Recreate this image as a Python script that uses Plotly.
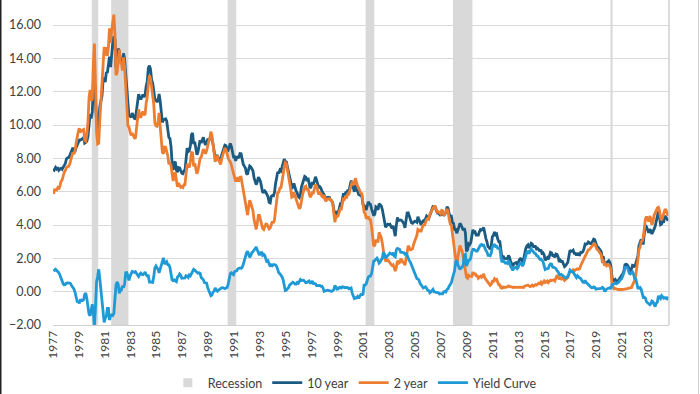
import plotly.graph_objects as go
import pandas as pd

# Monthly average yields (%), January 1977 to July 2024
ten_year = [
    7.21, 7.39, 7.46, 7.37, 7.46, 7.28, 7.33, 7.40, 7.34, 7.52, 7.58, 7.69,   # 1977
    7.96, 8.03, 8.04, 8.15, 8.35, 8.46, 8.64, 8.41, 8.42, 8.64, 8.81, 9.01,   # 1978
    9.10, 9.10, 9.12, 9.18, 9.25, 8.91, 8.95, 9.03, 9.33, 10.30, 10.65, 10.39,  # 1979
    10.80, 12.41, 12.75, 11.47, 10.18, 9.78, 10.25, 11.10, 11.51, 11.75, 12.68, 12.84,  # 1980
    12.57, 13.19, 13.12, 13.68, 14.10, 13.47, 14.28, 14.94, 15.32, 15.15, 13.39, 13.72,  # 1981
    14.59, 14.43, 13.86, 13.87, 13.62, 14.30, 13.95, 13.06, 12.34, 10.91, 10.55, 10.54,  # 1982
    10.46, 10.72, 10.51, 10.40, 10.38, 10.85, 11.38, 11.85, 11.65, 11.54, 11.69, 11.83,  # 1983
    11.67, 11.84, 12.32, 12.63, 13.41, 13.56, 13.36, 12.72, 12.52, 12.16, 11.57, 11.50,  # 1984
    11.38, 11.51, 11.86, 11.43, 10.85, 10.16, 10.31, 10.33, 10.37, 10.24, 9.78, 9.26,   # 1985
    9.19, 8.70, 7.78, 7.30, 7.71, 7.80, 7.30, 7.17, 7.45, 7.43, 7.25, 7.11,   # 1986
    7.08, 7.25, 7.25, 8.02, 8.61, 8.40, 8.45, 8.76, 9.42, 9.52, 8.86, 8.99,   # 1987
    8.67, 8.21, 8.37, 8.72, 9.09, 8.92, 9.06, 9.26, 8.98, 8.80, 8.96, 9.11,   # 1988
    9.09, 9.17, 9.36, 9.18, 8.86, 8.28, 8.02, 8.11, 8.19, 8.01, 7.87, 7.84,   # 1989
    8.21, 8.47, 8.59, 8.79, 8.76, 8.48, 8.47, 8.75, 8.89, 8.72, 8.39, 8.08,   # 1990
    8.09, 7.85, 8.11, 8.04, 8.07, 8.28, 8.27, 7.90, 7.65, 7.53, 7.42, 7.09,   # 1991
    7.03, 7.34, 7.54, 7.48, 7.39, 7.26, 6.84, 6.59, 6.42, 6.59, 6.87, 6.77,   # 1992
    6.60, 6.26, 5.98, 5.97, 6.04, 5.96, 5.81, 5.68, 5.36, 5.33, 5.72, 5.77,   # 1993
    5.75, 5.97, 6.48, 6.97, 7.18, 7.10, 7.30, 7.24, 7.46, 7.74, 7.96, 7.81,   # 1994
    7.78, 7.47, 7.20, 7.06, 6.63, 6.17, 6.28, 6.49, 6.20, 6.04, 5.93, 5.71,   # 1995
    5.65, 5.81, 6.27, 6.51, 6.74, 6.91, 6.87, 6.64, 6.83, 6.53, 6.20, 6.30,   # 1996
    6.58, 6.42, 6.69, 6.89, 6.71, 6.49, 6.22, 6.30, 6.21, 6.03, 5.88, 5.81,   # 1997
    5.54, 5.57, 5.65, 5.64, 5.65, 5.50, 5.46, 5.34, 4.81, 4.53, 4.83, 4.65,   # 1998
    4.72, 5.00, 5.23, 5.18, 5.54, 5.90, 5.79, 5.94, 5.92, 6.11, 6.03, 6.28,   # 1999
    6.66, 6.52, 6.26, 5.99, 6.44, 6.10, 6.05, 5.83, 5.80, 5.74, 5.72, 5.24,   # 2000
    5.16, 5.10, 4.89, 5.14, 5.39, 5.28, 5.24, 4.97, 4.73, 4.57, 4.65, 5.09,   # 2001
    5.04, 4.91, 5.28, 5.21, 5.16, 4.93, 4.65, 4.26, 3.87, 3.94, 4.05, 4.03,   # 2002
    4.05, 3.90, 3.81, 3.96, 3.57, 3.33, 3.98, 4.45, 4.27, 4.29, 4.30, 4.27,   # 2003
    4.15, 4.08, 3.83, 4.35, 4.72, 4.73, 4.50, 4.28, 4.13, 4.10, 4.19, 4.23,   # 2004
    4.22, 4.17, 4.50, 4.34, 4.14, 4.00, 4.18, 4.26, 4.20, 4.46, 4.54, 4.47,   # 2005
    4.42, 4.57, 4.72, 4.99, 5.11, 5.11, 5.09, 4.88, 4.72, 4.73, 4.60, 4.56,   # 2006
    4.76, 4.72, 4.56, 4.69, 4.75, 5.10, 5.00, 4.67, 4.52, 4.53, 4.15, 4.10,   # 2007
    3.74, 3.74, 3.51, 3.68, 3.88, 4.10, 4.01, 3.89, 3.69, 3.81, 3.53, 2.42,   # 2008
    2.52, 2.87, 2.82, 2.93, 3.29, 3.72, 3.56, 3.59, 3.40, 3.39, 3.40, 3.59,   # 2009
    3.73, 3.69, 3.73, 3.85, 3.42, 3.20, 3.01, 2.70, 2.65, 2.54, 2.76, 3.29,   # 2010
    3.39, 3.58, 3.41, 3.46, 3.17, 3.00, 3.00, 2.30, 1.98, 2.15, 2.01, 1.98,   # 2011
    1.97, 1.97, 2.17, 2.05, 1.80, 1.62, 1.53, 1.68, 1.72, 1.75, 1.65, 1.72,   # 2012
    1.91, 1.98, 1.96, 1.76, 1.93, 2.30, 2.58, 2.74, 2.81, 2.62, 2.72, 2.90,   # 2013
    2.86, 2.71, 2.72, 2.71, 2.56, 2.60, 2.54, 2.42, 2.53, 2.30, 2.33, 2.21,   # 2014
    1.88, 1.98, 2.04, 1.94, 2.20, 2.36, 2.32, 2.17, 2.17, 2.07, 2.26, 2.24,   # 2015
    2.09, 1.78, 1.89, 1.81, 1.81, 1.64, 1.50, 1.56, 1.63, 1.76, 2.14, 2.49,   # 2016
    2.43, 2.42, 2.48, 2.30, 2.30, 2.19, 2.32, 2.21, 2.20, 2.36, 2.35, 2.40,   # 2017
    2.58, 2.86, 2.84, 2.87, 2.98, 2.91, 2.89, 2.89, 3.00, 3.15, 3.12, 2.83,   # 2018
    2.71, 2.68, 2.57, 2.53, 2.40, 2.07, 2.06, 1.63, 1.70, 1.71, 1.81, 1.86,   # 2019
    1.76, 1.50, 0.87, 0.66, 0.67, 0.73, 0.62, 0.65, 0.68, 0.79, 0.87, 0.93,   # 2020
    1.08, 1.26, 1.61, 1.64, 1.62, 1.52, 1.32, 1.28, 1.37, 1.58, 1.56, 1.47,   # 2021
    1.76, 1.93, 2.13, 2.75, 2.90, 3.14, 2.90, 2.90, 3.52, 3.98, 3.89, 3.62,   # 2022
    3.53, 3.75, 3.66, 3.46, 3.57, 3.75, 3.90, 4.17, 4.38, 4.80, 4.50, 4.02,   # 2023
    4.06, 4.21, 4.21, 4.54, 4.48, 4.31, 4.25,                                   # 2024
]

two_year = [
    5.87, 6.11, 6.12, 6.10, 6.24, 6.15, 6.33, 6.62, 6.70, 7.05, 7.17, 7.26,   # 1977
    7.45, 7.50, 7.51, 7.63, 7.87, 8.12, 8.36, 8.25, 8.46, 8.90, 9.40, 9.61,   # 1978
    9.80, 9.56, 9.65, 9.71, 9.73, 9.07, 9.03, 9.46, 10.20, 11.64, 12.10, 11.47,  # 1979
    11.55, 13.70, 14.89, 12.36, 9.57, 8.87, 8.91, 10.34, 11.37, 12.31, 13.66, 14.68,  # 1980
    14.16, 14.67, 14.13, 14.69, 15.80, 14.91, 15.67, 16.37, 16.62, 15.49, 12.99, 13.14,  # 1981
    14.14, 14.53, 13.71, 13.76, 13.27, 14.06, 13.51, 11.93, 11.20, 9.97, 9.87, 9.62,   # 1982
    9.37, 9.51, 9.32, 9.24, 9.18, 9.76, 10.37, 10.94, 10.61, 10.43, 10.66, 10.81,   # 1983
    10.59, 10.66, 11.31, 11.69, 12.46, 12.98, 12.78, 12.17, 11.96, 11.27, 10.14, 9.96,  # 1984
    9.93, 10.18, 10.73, 10.07, 9.33, 8.36, 8.28, 8.67, 8.66, 8.44, 8.16, 7.65,   # 1985
    7.74, 7.55, 7.06, 6.64, 7.00, 7.16, 6.70, 6.29, 6.52, 6.37, 6.26, 6.30,   # 1986
    6.25, 6.41, 6.42, 7.06, 7.67, 7.54, 7.45, 7.81, 8.35, 8.33, 7.52, 7.70,   # 1987
    7.45, 7.07, 7.26, 7.58, 7.98, 8.07, 8.27, 8.55, 8.44, 8.28, 8.45, 8.87,   # 1988
    9.02, 9.22, 9.60, 9.38, 8.88, 8.25, 7.79, 8.02, 8.16, 7.91, 7.72, 7.63,   # 1989
    7.98, 8.23, 8.38, 8.61, 8.54, 8.24, 8.04, 7.87, 7.80, 7.59, 7.35, 7.06,   # 1990
    6.88, 6.60, 6.86, 6.67, 6.66, 6.86, 6.87, 6.44, 6.02, 5.63, 5.19, 4.77,   # 1991
    4.60, 5.07, 5.48, 5.32, 5.04, 4.87, 4.34, 4.05, 3.74, 4.09, 4.58, 4.58,   # 1992
    4.26, 3.91, 3.80, 3.73, 3.87, 4.06, 4.05, 3.84, 3.76, 3.82, 4.12, 4.21,   # 1993
    4.12, 4.34, 4.88, 5.45, 5.95, 5.97, 6.22, 6.24, 6.57, 7.02, 7.51, 7.74,   # 1994
    7.68, 7.32, 6.97, 6.67, 6.19, 5.67, 5.71, 5.96, 5.74, 5.58, 5.38, 5.21,   # 1995
    4.97, 5.08, 5.60, 5.82, 6.05, 6.29, 6.33, 6.09, 6.20, 5.89, 5.67, 5.77,   # 1996
    5.94, 5.93, 6.19, 6.42, 6.35, 6.12, 5.83, 5.93, 5.89, 5.70, 5.66, 5.79,   # 1997
    5.49, 5.47, 5.56, 5.56, 5.59, 5.49, 5.45, 5.27, 4.69, 4.17, 4.54, 4.50,   # 1998
    4.56, 4.75, 4.97, 4.96, 5.25, 5.62, 5.55, 5.68, 5.66, 5.86, 5.86, 6.10,   # 1999
    6.44, 6.61, 6.53, 6.40, 6.81, 6.48, 6.34, 6.23, 6.08, 5.91, 5.88, 5.45,   # 2000
    4.77, 4.71, 4.43, 4.42, 4.51, 4.35, 4.31, 3.89, 3.10, 2.73, 2.78, 3.11,   # 2001
    3.03, 3.02, 3.56, 3.42, 3.26, 2.91, 2.29, 2.00, 1.86, 1.85, 1.90, 1.84,   # 2002
    1.74, 1.63, 1.57, 1.62, 1.42, 1.23, 1.47, 1.86, 1.71, 1.75, 1.93, 1.91,   # 2003
    1.76, 1.74, 1.58, 2.07, 2.53, 2.76, 2.64, 2.51, 2.53, 2.58, 2.85, 3.01,   # 2004
    3.22, 3.38, 3.73, 3.65, 3.64, 3.64, 3.87, 4.04, 3.95, 4.17, 4.33, 4.39,   # 2005
    4.35, 4.64, 4.74, 4.89, 4.97, 5.12, 5.12, 4.90, 4.77, 4.80, 4.74, 4.67,   # 2006
    4.88, 4.85, 4.57, 4.67, 4.77, 4.96, 4.82, 4.34, 4.06, 3.99, 3.35, 3.12,   # 2007
    2.48, 1.97, 1.62, 2.05, 2.45, 2.77, 2.57, 2.42, 2.08, 1.61, 1.29, 0.88,   # 2008
    0.81, 0.98, 0.93, 0.93, 0.92, 1.18, 1.02, 1.12, 0.96, 0.95, 0.80, 0.87,   # 2009
    0.93, 0.86, 0.96, 1.06, 0.83, 0.72, 0.62, 0.52, 0.47, 0.38, 0.45, 0.62,   # 2010
    0.61, 0.77, 0.70, 0.73, 0.56, 0.41, 0.41, 0.23, 0.21, 0.28, 0.25, 0.26,   # 2011
    0.24, 0.28, 0.34, 0.29, 0.29, 0.29, 0.25, 0.27, 0.26, 0.28, 0.27, 0.26,   # 2012
    0.27, 0.27, 0.26, 0.23, 0.25, 0.33, 0.34, 0.36, 0.40, 0.34, 0.30, 0.34,   # 2013
    0.39, 0.33, 0.40, 0.42, 0.39, 0.45, 0.51, 0.47, 0.57, 0.45, 0.53, 0.64,   # 2014
    0.55, 0.62, 0.64, 0.54, 0.61, 0.69, 0.67, 0.70, 0.71, 0.64, 0.88, 0.98,   # 2015
    0.90, 0.73, 0.88, 0.77, 0.82, 0.73, 0.67, 0.74, 0.77, 0.84, 1.05, 1.20,   # 2016
    1.21, 1.20, 1.31, 1.24, 1.30, 1.34, 1.37, 1.34, 1.38, 1.57, 1.70, 1.84,   # 2017
    2.03, 2.18, 2.28, 2.38, 2.51, 2.53, 2.61, 2.65, 2.77, 2.86, 2.86, 2.68,   # 2018
    2.54, 2.50, 2.37, 2.31, 2.21, 1.81, 1.84, 1.57, 1.65, 1.55, 1.61, 1.61,   # 2019
    1.52, 1.33, 0.45, 0.23, 0.17, 0.19, 0.15, 0.14, 0.13, 0.14, 0.17, 0.14,   # 2020
    0.13, 0.12, 0.15, 0.16, 0.16, 0.20, 0.22, 0.22, 0.24, 0.39, 0.52, 0.68,   # 2021
    0.98, 1.39, 1.91, 2.54, 2.65, 2.99, 3.02, 3.25, 3.86, 4.38, 4.50, 4.29,   # 2022
    4.21, 4.54, 4.38, 4.02, 4.17, 4.58, 4.80, 4.87, 5.02, 5.06, 4.86, 4.43,   # 2023
    4.30, 4.54, 4.60, 4.90, 4.90, 4.74, 4.55,                                   # 2024
]

# Yield curve = 10 year minus 2 year spread
yield_curve = [round(a - b, 2) for a, b in zip(ten_year, two_year)]

recession_starts = ["1980-01-01", "1981-07-01", "1990-07-01", "2001-03-01", "2007-12-01", "2020-02-01"]
recession_ends = ["1980-07-01", "1982-11-01", "1991-03-01", "2001-11-01", "2009-06-01", "2020-04-01"]

y_ticks = [-2, 0, 2, 4, 6, 8, 10, 12, 14, 16]
x_tick_years = list(range(1977, 2024, 2))

dates = pd.date_range("1977-01-01", periods=len(ten_year), freq="MS") + pd.Timedelta(days=14)

C_TEN = "#1b5b82"
C_TWO = "#ed7d31"
C_YC = "#1f9ad6"
C_REC = "#d9d9d9"
FONT = "Lato"

ML, MR, MT, MB = 53, 31, 0, 69
plot_w = 700 - ML - MR
plot_h = 394 - MT - MB

fig = go.Figure()

# Legend entry for recession shading
fig.add_trace(go.Scatter(x=[None], y=[None], name="Recession", mode="markers",
                         marker=dict(symbol="square", size=9, color=C_REC),
                         showlegend=True))

fig.add_trace(go.Scatter(x=dates, y=ten_year, name="10 year", mode="lines",
                         line=dict(color=C_TEN, width=2.8)))
fig.add_trace(go.Scatter(x=dates, y=two_year, name="2 year", mode="lines",
                         line=dict(color=C_TWO, width=2.8)))
fig.add_trace(go.Scatter(x=dates, y=yield_curve, name="Yield Curve", mode="lines",
                         line=dict(color=C_YC, width=2.8)))

shapes = []
for s, e in zip(recession_starts, recession_ends):
    shapes.append(dict(type="rect", xref="x", yref="paper", x0=s, x1=e, y0=0, y1=1,
                       fillcolor=C_REC, line=dict(width=0), layer="below"))

# right border of plot area
shapes.append(dict(type="line", xref="paper", yref="paper", x0=1, x1=1, y0=0, y1=1,
                   line=dict(color="#d0d0d0", width=1.5)))
# frame edges of the image
shapes.append(dict(type="line", xref="paper", yref="paper",
                   x0=-(ML - 0.75) / plot_w, x1=-(ML - 0.75) / plot_w,
                   y0=-MB / plot_h, y1=1,
                   line=dict(color="#222222", width=1.5)))
shapes.append(dict(type="line", xref="paper", yref="paper",
                   x0=1 + (MR - 1.5) / plot_w, x1=1 + (MR - 1.5) / plot_w,
                   y0=-MB / plot_h, y1=1,
                   line=dict(color="#d0d0d0", width=1)))

fig.update_layout(
    width=700, height=394,
    margin=dict(l=ML, r=MR, t=MT, b=MB, autoexpand=False),
    paper_bgcolor="white", plot_bgcolor="white",
    font=dict(family=FONT, size=12, color="#404040"),
    shapes=shapes,
    showlegend=True,
    legend=dict(orientation="h", x=0.49, xanchor="center",
                y=-(383 - 325) / plot_h, yanchor="middle",
                font=dict(family=FONT, size=12.5, color="#404040"),
                itemwidth=30, traceorder="normal"),
)

fig.update_xaxes(
    type="date",
    automargin=False,
    range=["1977-01-01", "2024-08-10"],
    tickvals=[f"{y}-01-01" for y in x_tick_years],
    ticktext=[str(y) for y in x_tick_years],
    tickangle=-90,
    showgrid=False,
    showline=True, linecolor="#d0d0d0", linewidth=1,
    ticks="", zeroline=False,
    tickfont=dict(family=FONT, size=12, color="#404040"),
)

fig.update_yaxes(
    automargin=False,
    range=[-2, 17.5],
    tickvals=y_ticks,
    tickformat=".2f",
    showgrid=True, gridcolor="#d9d9d9", gridwidth=1,
    zeroline=False, showline=False, ticks="",
    ticklabelstandoff=11,
    tickfont=dict(family=FONT, size=12.5, color="#404040"),
)

fig.write_html("out.html", config={"displayModeBar": False},
               post_script="document.body.style.margin='0px';")
